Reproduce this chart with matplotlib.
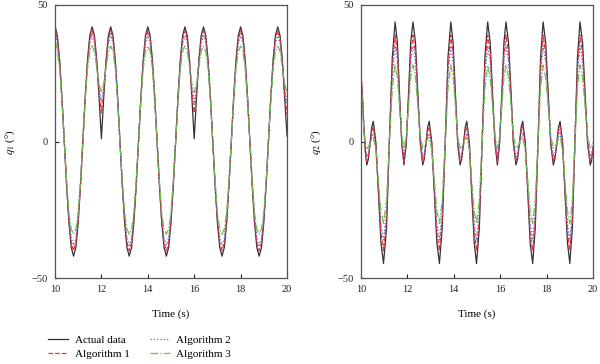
import matplotlib
matplotlib.use('Agg')
import matplotlib.pyplot as plt

plt.rcParams['font.family'] = ['Liberation Serif', 'DejaVu Serif']
plt.rcParams['mathtext.fontset'] = 'stix'
plt.rcParams['axes.unicode_minus'] = True

labels = ['Actual data', 'Algorithm 1', 'Algorithm 2', 'Algorithm 3']
colors = ['#333333', '#f0303c', '#5566d8', '#6cc24a']
styles = ['-', '--', ':', '-.']

# q1, sampled every 0.1 s from 10 to 20
t1 = [round(10 + 0.1 * i, 1) for i in range(101)]

q1_actual = [
    42.5, 38.8, 29.7, 16.1, 0, -16.1, -29.7, -38.8, -42, -38.8, -29.7, -16.1, 0, 16.1, 29.7, 38.8,
    42, 38.8, 29.7, 16.1, 1, 16.1, 29.7, 38.8,
    42, 38.8, 29.7, 16.1, 0, -16.1, -29.7, -38.8, -42, -38.8, -29.7, -16.1, 0, 16.1, 29.7, 38.8,
    42, 38.8, 29.7, 16.1, 0, -16.1, -29.7, -38.8, -42, -38.8, -29.7, -16.1, 0, 16.1, 29.7, 38.8,
    42, 38.8, 29.7, 16.1, 1, 16.1, 29.7, 38.8,
    42, 38.8, 29.7, 16.1, 0, -16.1, -29.7, -38.8, -42, -38.8, -29.7, -16.1, 0, 16.1, 29.7, 38.8,
    42, 38.8, 29.7, 16.1, 0, -16.1, -29.7, -38.8, -42, -38.8, -29.7, -16.1, 0, 16.1, 29.7, 38.8,
    42, 38.8, 29.7, 16.1, 2,
]
q1_alg1 = [
    41.5, 37.5, 28.8, 15.6, 0, -15.5, -28.4, -37, -40, -37, -28.4, -15.5, 0, 15.6, 28.8, 37.5,
    40.5, 37.5, 29, 18, 10.5, 18, 29, 37.5,
    40.5, 37.5, 28.8, 15.6, 0, -15.5, -28.4, -37, -40, -37, -28.4, -15.5, 0, 15.6, 28.8, 37.5,
    40.5, 37.5, 28.8, 15.6, 0, -15.5, -28.4, -37, -40, -37, -28.4, -15.5, 0, 15.6, 28.8, 37.5,
    40.5, 37.5, 29, 18, 10.5, 18, 29, 37.5,
    40.5, 37.5, 28.8, 15.6, 0, -15.5, -28.4, -37, -40, -37, -28.4, -15.5, 0, 15.6, 28.8, 37.5,
    40.5, 37.5, 28.8, 15.6, 0, -15.5, -28.4, -37, -40, -37, -28.4, -15.5, 0, 15.6, 28.8, 37.5,
    40.5, 37.5, 29, 18, 10,
]
q1_alg2 = [
    40, 36, 28, 15.3, 0, -15, -27.5, -35.5, -38, -35.5, -27.5, -15, 0, 15.3, 28, 36,
    38.7, 36, 28.5, 20, 14.5, 20, 28.5, 36,
    38.7, 36, 28, 15.3, 0, -15, -27.5, -35.5, -38, -35.5, -27.5, -15, 0, 15.3, 28, 36,
    38.7, 36, 28, 15.3, 0, -15, -27.5, -35.5, -38, -35.5, -27.5, -15, 0, 15.3, 28, 36,
    38.7, 36, 28.5, 20, 14.5, 20, 28.5, 36,
    38.7, 36, 28, 15.3, 0, -15, -27.5, -35.5, -38, -35.5, -27.5, -15, 0, 15.3, 28, 36,
    38.7, 36, 28, 15.3, 0, -15, -27.5, -35.5, -38, -35.5, -27.5, -15, 0, 15.3, 28, 36,
    38.7, 36, 28.5, 20, 14,
]
q1_alg3 = [
    37, 33, 26.5, 14.8, 0, -14.5, -26, -32, -34, -32, -26, -14.5, 0, 14.8, 26.5, 33,
    35, 33, 27, 21, 18, 21, 27, 33,
    35, 33, 26.5, 14.8, 0, -14.5, -26, -32, -34, -32, -26, -14.5, 0, 14.8, 26.5, 33,
    35, 33, 26.5, 14.8, 0, -14.5, -26, -32, -34, -32, -26, -14.5, 0, 14.8, 26.5, 33,
    35, 33, 27, 21, 18, 21, 27, 33,
    35, 33, 26.5, 14.8, 0, -14.5, -26, -32, -34, -32, -26, -14.5, 0, 14.8, 26.5, 33,
    35, 33, 26.5, 14.8, 0, -14.5, -26, -32, -34, -32, -26, -14.5, 0, 14.8, 26.5, 33,
    35, 33, 27, 21, 18,
]

# q2, read at the turning points and in between
t2 = [
    10.00, 10.06, 10.12, 10.19, 10.25,
    10.32, 10.39, 10.46, 10.53,
    10.64, 10.75, 10.86, 10.97,
    11.10, 11.22, 11.35, 11.47,
    11.57, 11.66, 11.76, 11.85,
    11.95, 12.05, 12.14, 12.24,
    12.35, 12.45, 12.56, 12.66,
    12.73, 12.80, 12.87, 12.94,
    13.05, 13.16, 13.27, 13.38,
    13.50, 13.63, 13.75, 13.87,
    13.97, 14.07, 14.17, 14.27,
    14.34, 14.42, 14.49, 14.56,
    14.67, 14.77, 14.88, 14.98,
    15.10, 15.22, 15.34, 15.46,
    15.57, 15.67, 15.78, 15.88,
    15.97, 16.07, 16.16, 16.25,
    16.36, 16.47, 16.57, 16.68,
    16.75, 16.83, 16.90, 16.97,
    17.08, 17.19, 17.29, 17.40,
    17.51, 17.63, 17.74, 17.85,
    17.96, 18.07, 18.18, 18.29,
    18.36, 18.44, 18.51, 18.58,
    18.69, 18.79, 18.90, 19.00,
    19.11, 19.22, 19.33, 19.44,
    19.55, 19.66, 19.77, 19.88,
    19.94, 20.00,
]
q2_actual = [
    24, 17, 6, -4, -8.6,
    -6.3, -0.6, 5.1, 7.4,
    -0.2, -18.7, -37.1, -44.7,
    -31.8, -0.5, 30.9, 43.8,
    36.2, 17.6, -1.0, -8.6,
    -1.0, 17.6, 36.2, 43.8,
    36.2, 17.6, -1.0, -8.6,
    -6.3, -0.6, 5.1, 7.4,
    -0.2, -18.7, -37.1, -44.7,
    -31.8, -0.5, 30.9, 43.8,
    36.2, 17.6, -1.0, -8.6,
    -6.3, -0.6, 5.1, 7.4,
    -0.2, -18.7, -37.1, -44.7,
    -31.8, -0.5, 30.9, 43.8,
    36.2, 17.6, -1.0, -8.6,
    -1.0, 17.6, 36.2, 43.8,
    36.2, 17.6, -1.0, -8.6,
    -6.3, -0.6, 5.1, 7.4,
    -0.2, -18.7, -37.1, -44.7,
    -31.8, -0.5, 30.9, 43.8,
    36.2, 17.6, -1.0, -8.6,
    -6.3, -0.6, 5.1, 7.4,
    -0.2, -18.7, -37.1, -44.7,
    -31.8, -0.5, 30.9, 43.8,
    36.2, 17.6, -1.0, -8.6,
    -7, -2,
]
q2_alg1 = [
    25, 17, 6, -3, -7.3,
    -5.4, -0.9, 3.6, 5.5,
    -1.1, -17.3, -33.4, -40.0,
    -28.5, -0.5, 27.5, 39.0,
    32.2, 15.9, -0.5, -7.3,
    -0.5, 15.9, 32.2, 39.0,
    32.2, 15.9, -0.5, -7.3,
    -5.4, -0.9, 3.6, 5.5,
    -1.1, -17.3, -33.4, -40.0,
    -28.5, -0.5, 27.5, 39.0,
    32.2, 15.9, -0.5, -7.3,
    -5.4, -0.9, 3.6, 5.5,
    -1.1, -17.3, -33.4, -40.0,
    -28.5, -0.5, 27.5, 39.0,
    32.2, 15.9, -0.5, -7.3,
    -0.5, 15.9, 32.2, 39.0,
    32.2, 15.9, -0.5, -7.3,
    -5.4, -0.9, 3.6, 5.5,
    -1.1, -17.3, -33.4, -40.0,
    -28.5, -0.5, 27.5, 39.0,
    32.2, 15.9, -0.5, -7.3,
    -5.4, -0.9, 3.6, 5.5,
    -1.1, -17.3, -33.4, -40.0,
    -28.5, -0.5, 27.5, 39.0,
    32.2, 15.9, -0.5, -7.3,
    -6, -2,
]
q2_alg2 = [
    23, 15, 5, -2, -5.5,
    -4.3, -1.3, 1.8, 3.0,
    -2.7, -16.5, -30.3, -36.0,
    -25.6, -0.5, 24.6, 35.0,
    29.1, 14.8, 0.4, -5.5,
    0.4, 14.8, 29.1, 35.0,
    29.1, 14.8, 0.4, -5.5,
    -4.3, -1.3, 1.8, 3.0,
    -2.7, -16.5, -30.3, -36.0,
    -25.6, -0.5, 24.6, 35.0,
    29.1, 14.8, 0.4, -5.5,
    -4.3, -1.3, 1.8, 3.0,
    -2.7, -16.5, -30.3, -36.0,
    -25.6, -0.5, 24.6, 35.0,
    29.1, 14.8, 0.4, -5.5,
    0.4, 14.8, 29.1, 35.0,
    29.1, 14.8, 0.4, -5.5,
    -4.3, -1.3, 1.8, 3.0,
    -2.7, -16.5, -30.3, -36.0,
    -25.6, -0.5, 24.6, 35.0,
    29.1, 14.8, 0.4, -5.5,
    -4.3, -1.3, 1.8, 3.0,
    -2.7, -16.5, -30.3, -36.0,
    -25.6, -0.5, 24.6, 35.0,
    29.1, 14.8, 0.4, -5.5,
    -4.5, -1.5,
]
q2_alg3 = [
    22, 14, 5, -1, -2.5,
    -1.9, -0.5, 0.9, 1.5,
    -3.1, -14.3, -25.4, -30.0,
    -21.5, -1.0, 19.5, 28.0,
    23.5, 12.8, 2.0, -2.5,
    2.0, 12.8, 23.5, 28.0,
    23.5, 12.8, 2.0, -2.5,
    -1.9, -0.5, 0.9, 1.5,
    -3.1, -14.3, -25.4, -30.0,
    -21.5, -1.0, 19.5, 28.0,
    23.5, 12.8, 2.0, -2.5,
    -1.9, -0.5, 0.9, 1.5,
    -3.1, -14.3, -25.4, -30.0,
    -21.5, -1.0, 19.5, 28.0,
    23.5, 12.8, 2.0, -2.5,
    2.0, 12.8, 23.5, 28.0,
    23.5, 12.8, 2.0, -2.5,
    -1.9, -0.5, 0.9, 1.5,
    -3.1, -14.3, -25.4, -30.0,
    -21.5, -1.0, 19.5, 28.0,
    23.5, 12.8, 2.0, -2.5,
    -1.9, -0.5, 0.9, 1.5,
    -3.1, -14.3, -25.4, -30.0,
    -21.5, -1.0, 19.5, 28.0,
    23.5, 12.8, 2.0, -2.5,
    -2, -0.5,
]

x_ticks = [10, 12, 14, 16, 18, 20]
y_ticks = [-50, 0, 50]

fig = plt.figure(figsize=(6, 3.64), dpi=100)
ax1 = fig.add_axes([55 / 600, 1 - 278 / 364, 232 / 600, 273 / 364])
ax2 = fig.add_axes([361 / 600, 1 - 278 / 364, 232 / 600, 273 / 364])

panels = [
    (ax1, t1, [q1_actual, q1_alg1, q1_alg2, q1_alg3], r'$q_1$ (°)'),
    (ax2, t2, [q2_actual, q2_alg1, q2_alg2, q2_alg3], r'$q_2$ (°)'),
]

for ax, t, series, ylab in panels:
    for s, lab, c, ls in zip(series, labels, colors, styles):
        ax.plot(t, s, ls, color=c, lw=0.9, label=lab)
    ax.set_xlim(10, 20)
    ax.set_ylim(-50, 50)
    ax.set_xticks(x_ticks)
    ax.set_yticks(y_ticks)
    ax.tick_params(direction='in', length=3, width=0.8, labelsize=7.5,
                   colors='#222222', pad=5)
    for sp in ax.spines.values():
        sp.set_color('#555555')
        sp.set_linewidth(0.9)
    ax.set_xlabel('Time (s)', fontsize=8, labelpad=11)
    ax.set_ylabel(ylab, fontsize=8, labelpad=11)

handles, labs = ax1.get_legend_handles_labels()
fig.legend(handles, labs, loc='upper left', bbox_to_anchor=(48 / 600, 1 - 335 / 364),
           ncol=2, frameon=False, fontsize=8, handlelength=1.8, handletextpad=0.6,
           columnspacing=1.8, labelspacing=0.4, borderpad=0, borderaxespad=0)

fig.savefig('out.png', dpi=100)
